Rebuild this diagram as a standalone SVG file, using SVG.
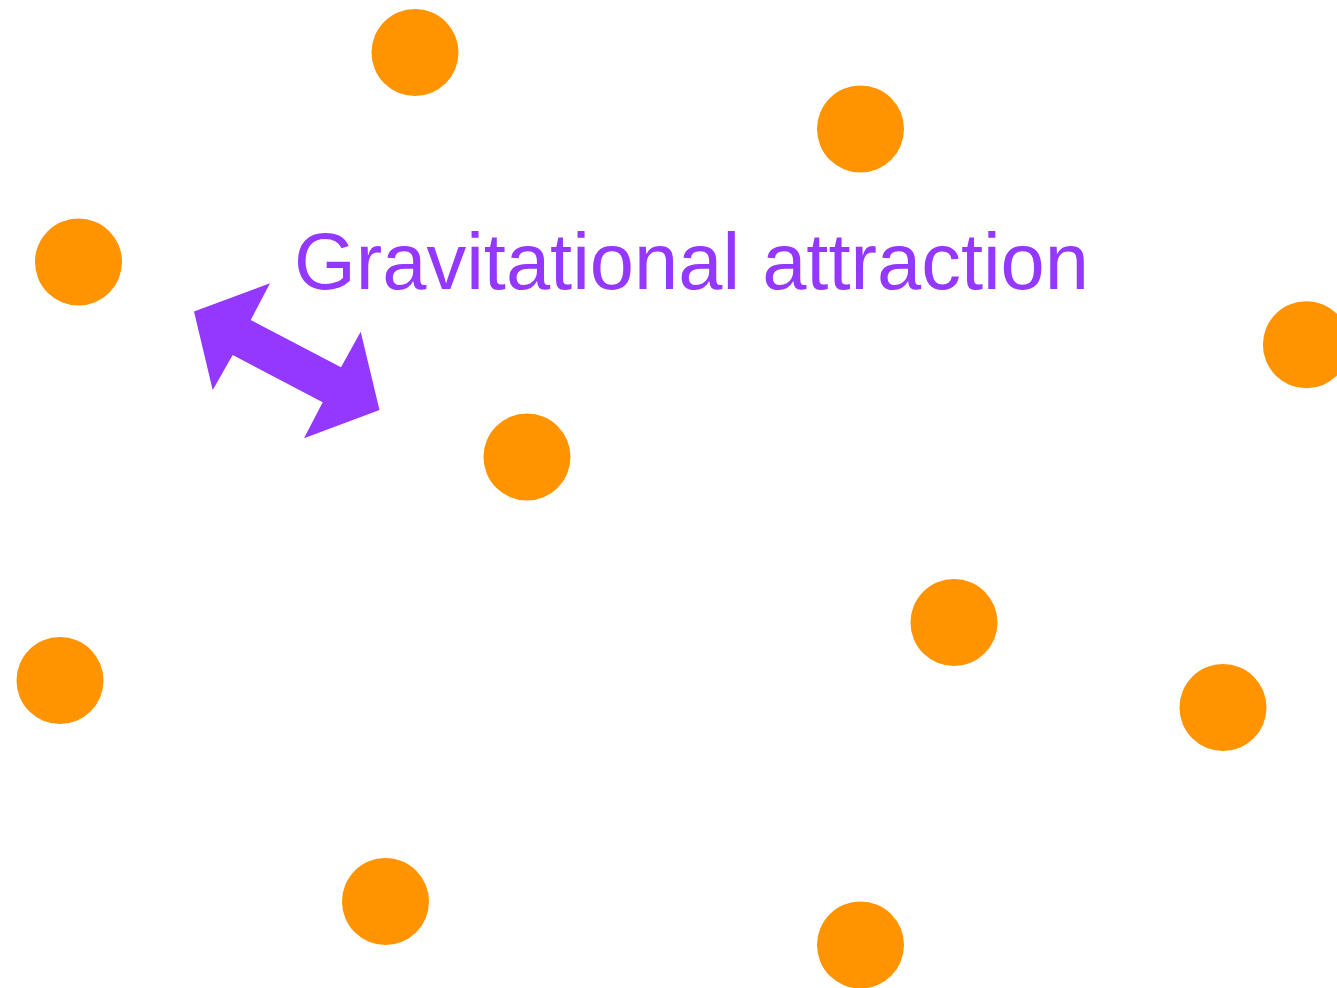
<svg xmlns="http://www.w3.org/2000/svg" width="1337" height="988" viewBox="0 0 1337 988">
<style>
.body{fill:#FF9300}
.arrow{fill:#9437FF}
.label{fill:#9437FF;font-family:"Liberation Sans",Arial,sans-serif;font-size:80px}
</style>
<rect width="1337" height="988" fill="#FFFFFF"/>
<g id="bodies">
<g id="body1"><circle class="body" cx="415" cy="52.5" r="43.5"/></g>
<g id="body2"><circle class="body" cx="860.5" cy="129" r="43.5"/></g>
<g id="body3"><circle class="body" cx="78.5" cy="262" r="43.5"/></g>
<g id="body4"><circle class="body" cx="1306.4" cy="344.7" r="43.5"/></g>
<g id="body5"><circle class="body" cx="527" cy="457" r="43.5"/></g>
<g id="body6"><circle class="body" cx="954" cy="622.5" r="43.5"/></g>
<g id="body7"><circle class="body" cx="60" cy="680.5" r="43.5"/></g>
<g id="body8"><circle class="body" cx="1223" cy="707.5" r="43.5"/></g>
<g id="body9"><circle class="body" cx="385.5" cy="901.5" r="43.5"/></g>
<g id="body10"><circle class="body" cx="860.5" cy="945" r="43.5"/></g>
</g>
<g id="connectors">
<polygon class="arrow" points="194,311.5 270,283.3 250.7,320 341,367.3 360.7,331.7 379.5,410 304,438.3 322.7,402.3 232.7,355 212.7,390"/>
</g>
<g id="label">
<text class="label" x="294" y="289" textLength="795" lengthAdjust="spacingAndGlyphs">Gravitational attraction</text>
</g>
</svg>
